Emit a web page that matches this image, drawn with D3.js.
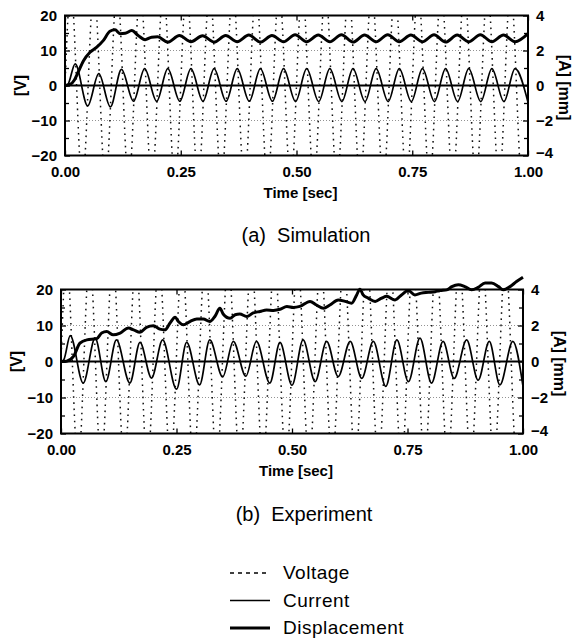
<!DOCTYPE html>
<html>
<head>
<meta charset="utf-8">
<script src="https://cdn.jsdelivr.net/npm/d3@7"></script>
<style>
  body { margin: 0; background: #fff; }
  svg { display: block; }
</style>
</head>
<body>
<svg id="chart"></svg>
<script>
// constants and data
const width = 575;
const height = 640;
const timeTicks = [0, 0.25, 0.5, 0.75, 1.0];
const voltTicks = [-20, -10, 0, 10, 20];
const voltMinorTicks = [-15, -5, 5, 15];
const ampTicks = [-4, -2, 0, 2, 4];
const ampMinorTicks = [-3, -1, 1, 3];
const gridValues = [-10, 10];
const legendLabels = ["Voltage", "Current", "Displacement"];
const captions = ["(a)  Simulation", "(b)  Experiment"];

// voltage [V] (peaks run past the +-20 frame and get clipped)
const simVoltage = [[0, 0], [0.0125, 28], [0.0375, -28], [0.0625, 28], [0.0875, -28], [0.1125, 28], [0.1375, -28],
    [0.1625, 28], [0.1875, -28], [0.2125, 28], [0.2375, -28], [0.2625, 28], [0.2875, -28], [0.3125, 28], [0.3375, -28],
    [0.3625, 28], [0.3875, -28], [0.4125, 28], [0.4375, -28], [0.4625, 28], [0.4875, -28], [0.5125, 28], [0.5375, -28],
    [0.5625, 28], [0.5875, -28], [0.6125, 28], [0.6375, -28], [0.6625, 28], [0.6875, -28], [0.7125, 28], [0.7375, -28],
    [0.7625, 28], [0.7875, -28], [0.8125, 28], [0.8375, -28], [0.8625, 28], [0.8875, -28], [0.9125, 28], [0.9375, -28],
    [0.9625, 28], [0.9875, -28], [1.0, -20]];
const expVoltage = [[0, 0], [0.012, 29], [0.037, -29], [0.062, 29], [0.087, -29], [0.112, 29], [0.137, -29],
    [0.162, 29], [0.187, -29], [0.212, 29], [0.237, -29], [0.262, 29], [0.287, -29], [0.312, 29], [0.337, -29],
    [0.362, 29], [0.387, -29], [0.412, 29], [0.437, -29], [0.462, 29], [0.487, -29], [0.512, 29], [0.537, -29],
    [0.562, 29], [0.587, -29], [0.612, 29], [0.637, -29], [0.662, 29], [0.687, -29], [0.712, 29], [0.737, -29],
    [0.762, 29], [0.787, -29], [0.812, 29], [0.837, -29], [0.862, 29], [0.887, -29], [0.912, 29], [0.937, -29],
    [0.962, 29], [0.987, -29], [1.0, -22]];

// current, drawn on the left scale (5 V-units = 1 A)
const simCurrent = [[0, 0], [0.006, 0.3], [0.022, 6.2], [0.049, -5.8], [0.073, 3.4], [0.098, -6.1], [0.122, 4.6],
    [0.148, -4.5], [0.172, 4.8], [0.198, -4.5], [0.222, 4.8], [0.248, -4.5], [0.272, 4.8], [0.298, -4.5], [0.322, 4.8],
    [0.348, -4.5], [0.372, 4.8], [0.398, -4.5], [0.422, 4.8], [0.448, -4.5], [0.472, 4.8], [0.498, -4.6], [0.522, 4.8],
    [0.548, -4.6], [0.572, 4.8], [0.598, -4.6], [0.622, 4.8], [0.648, -4.6], [0.672, 4.8], [0.698, -4.6], [0.722, 4.8],
    [0.748, -4.6], [0.772, 4.8], [0.798, -4.6], [0.822, 4.8], [0.848, -4.6], [0.872, 4.8], [0.898, -4.6], [0.922, 4.8],
    [0.948, -4.6], [0.972, 4.8], [1.0, -4.8]];
const expCurrent = [[0, 0], [0.006, 0.5], [0.02, 7.2], [0.048, -6.0], [0.074, 6.5], [0.097, -5.6], [0.12, 6.0],
    [0.149, -6.0], [0.171, 5.3], [0.196, -4.6], [0.22, 6.0], [0.25, -7.7], [0.272, 5.3], [0.3, -6.5], [0.322, 6.0],
    [0.35, -4.3], [0.373, 5.6], [0.4, -4.1], [0.423, 5.6], [0.452, -6.0], [0.474, 5.3], [0.5, -6.6], [0.524, 6.0],
    [0.55, -5.6], [0.575, 5.6], [0.6, -4.2], [0.626, 5.6], [0.651, -4.7], [0.676, 5.6], [0.703, -6.9], [0.727, 6.0],
    [0.752, -5.6], [0.777, 6.5], [0.802, -6.0], [0.827, 5.6], [0.851, -4.7], [0.878, 6.0], [0.903, -5.2], [0.927, 5.6],
    [0.95, -6.5], [0.978, 5.6], [1.0, -6.9]];

// displacement, drawn on the left scale (5 V-units = 1 mm)
const simDisplacement = [[0, 0], [0.011, 0.3], [0.02, 1.5], [0.028, 3.7], [0.04, 7.1], [0.054, 9.5], [0.068, 10.9],
    [0.083, 12.9], [0.097, 15.5], [0.108, 15.9], [0.119, 14.8], [0.13, 14.9], [0.144, 15.7], [0.158, 14.3],
    [0.173, 13.1], [0.187, 13.8], [0.2, 13.9], [0.222, 12.4], [0.247, 14.3], [0.272, 12.5], [0.297, 14.2],
    [0.322, 12.4], [0.347, 14.3], [0.372, 12.5], [0.397, 14.4], [0.422, 12.4], [0.447, 14.3], [0.472, 12.5],
    [0.497, 14.5], [0.522, 12.5], [0.547, 14.4], [0.572, 12.5], [0.597, 14.5], [0.622, 12.4], [0.647, 14.4],
    [0.672, 12.5], [0.697, 14.5], [0.722, 12.5], [0.747, 14.4], [0.772, 12.5], [0.797, 14.5], [0.822, 12.4],
    [0.847, 14.4], [0.872, 12.5], [0.897, 14.5], [0.922, 12.5], [0.947, 14.4], [0.972, 12.5], [1.0, 14.8]];
const expDisplacement = [[0, 0], [0.012, 0.1], [0.027, 1.4], [0.041, 5.1], [0.056, 6.0], [0.077, 6.3], [0.088, 7.9],
    [0.099, 8.3], [0.113, 7.4], [0.128, 7.9], [0.146, 9.3], [0.157, 8.8], [0.171, 8.1], [0.185, 9.5], [0.2, 9.9],
    [0.214, 9.0], [0.225, 8.8], [0.236, 10.7], [0.247, 12.3], [0.254, 11.1], [0.265, 10.2], [0.279, 11.1],
    [0.294, 11.8], [0.308, 11.8], [0.322, 11.1], [0.333, 12.5], [0.344, 14.8], [0.351, 13.2], [0.366, 12.0],
    [0.377, 13.0], [0.387, 13.2], [0.402, 12.5], [0.416, 13.5], [0.431, 13.9], [0.445, 14.3], [0.46, 14.2],
    [0.474, 14.5], [0.489, 15.3], [0.503, 15.0], [0.517, 15.3], [0.539, 16.7], [0.553, 15.7], [0.568, 14.8],
    [0.582, 15.7], [0.6, 17.1], [0.615, 16.7], [0.629, 16.2], [0.64, 18.5], [0.647, 20.1], [0.654, 18.5],
    [0.665, 17.6], [0.68, 16.7], [0.694, 17.6], [0.705, 18.1], [0.723, 17.1], [0.737, 18.5], [0.752, 19.7],
    [0.766, 18.5], [0.78, 19.0], [0.795, 19.2], [0.81, 19.4], [0.82, 19.7], [0.835, 19.9], [0.846, 20.8],
    [0.86, 21.3], [0.874, 20.8], [0.889, 19.9], [0.903, 20.6], [0.918, 21.8], [0.932, 21.8], [0.947, 20.8],
    [0.957, 19.9], [0.972, 20.8], [0.986, 22.2], [1.0, 23.4]];

const font = "'Liberation Sans', Arial, Helvetica, sans-serif";

const svg = d3.select("#chart")
    .attr("width", width)
    .attr("height", height)
    .style("font-family", font);

const panels = [
    { id: "a", x0: 65, x1: 528, y0: 15.5, y1: 155.5, voltage: simVoltage, current: simCurrent, disp: simDisplacement,
      caption: captions[0], captionX: 306, captionY: 242 },
    { id: "b", x0: 61, x1: 523, y0: 289.5, y1: 433.5, voltage: expVoltage, current: expCurrent, disp: expDisplacement,
      caption: captions[1], captionX: 304, captionY: 521 }
];

const drawPanel = (p) => {
    const x = d3.scaleLinear().domain([0, 1]).range([p.x0, p.x1]);
    const y = d3.scaleLinear().domain([-20, 20]).range([p.y1, p.y0]);
    const yR = d3.scaleLinear().domain([-4, 4]).range([p.y1, p.y0]);
    const g = svg.append("g").attr("id", `panel-${p.id}`);

    g.append("clipPath").attr("id", `clip-${p.id}`)
        .append("rect")
        .attr("x", p.x0).attr("y", p.y0)
        .attr("width", p.x1 - p.x0).attr("height", p.y1 - p.y0);

    // dotted grid at +-10
    g.selectAll("line.grid")
        .data(gridValues)
        .join("line")
        .attr("class", "grid")
        .attr("x1", p.x0).attr("x2", p.x1)
        .attr("y1", d => y(d)).attr("y2", d => y(d))
        .attr("stroke", "#777")
        .attr("stroke-width", 0.8)
        .attr("stroke-dasharray", "1,2");

    const line = d3.line()
        .x(d => x(d[0]))
        .y(d => y(d[1]))
        .curve(d3.curveMonotoneX);

    const clipped = g.append("g").attr("clip-path", `url(#clip-${p.id})`);
    clipped.append("path")
        .attr("d", line(p.voltage))
        .attr("fill", "none")
        .attr("stroke", "#111")
        .attr("stroke-width", 1.5)
        .attr("stroke-dasharray", "1.6,4.5");
    // zero line
    clipped.append("line")
        .attr("x1", p.x0).attr("x2", p.x1)
        .attr("y1", y(0)).attr("y2", y(0))
        .attr("stroke", "#000")
        .attr("stroke-width", 1.8);
    clipped.append("path")
        .attr("d", line(p.current))
        .attr("fill", "none")
        .attr("stroke", "#000")
        .attr("stroke-width", 1.7);

    // displacement is not clipped (goes past the top in the experiment)
    g.append("path")
        .attr("d", line(p.disp))
        .attr("fill", "none")
        .attr("stroke", "#000")
        .attr("stroke-width", 3)
        .attr("stroke-linejoin", "round");

    // axes
    const styleAxis = (sel) => {
        sel.select(".domain").remove();
        sel.selectAll(".tick line").attr("stroke", "#000").attr("stroke-width", 1.3);
        sel.selectAll("text")
            .attr("fill", "#000")
            .style("font-family", font)
            .style("font-size", "15px")
            .style("font-weight", "bold");
    };
    g.append("g")
        .attr("transform", `translate(${p.x0},0)`)
        .call(d3.axisLeft(y).tickValues(voltTicks).tickSize(-5).tickPadding(8).tickFormat(d3.format("d")))
        .call(styleAxis);
    g.append("g")
        .attr("transform", `translate(${p.x0},0)`)
        .call(d3.axisLeft(y).tickValues(voltMinorTicks).tickSize(-4).tickFormat(""))
        .call(styleAxis);
    const rightAxis = g.append("g")
        .attr("transform", `translate(${p.x1},0)`)
        .call(d3.axisRight(yR).tickValues(ampTicks).tickSize(-5).tickPadding(8).tickFormat(d3.format("d")))
        .call(styleAxis);
    // lowest label sits a bit higher, clear of "1.00"
    rightAxis.selectAll(".tick text").filter(d => d === -4).attr("dy", "0.1em");
    g.append("g")
        .attr("transform", `translate(${p.x1},0)`)
        .call(d3.axisRight(yR).tickValues(ampMinorTicks).tickSize(-4).tickFormat(""))
        .call(styleAxis);
    g.append("g")
        .attr("transform", `translate(0,${p.y1})`)
        .call(d3.axisBottom(x).tickValues(timeTicks).tickSize(-5).tickPadding(11).tickFormat(d3.format(".2f")))
        .call(styleAxis);
    g.append("g")
        .attr("transform", `translate(0,${p.y0})`)
        .call(d3.axisTop(x).tickValues(timeTicks).tickSize(-5).tickFormat(""))
        .call(styleAxis);

    // frame
    g.append("rect")
        .attr("x", p.x0).attr("y", p.y0)
        .attr("width", p.x1 - p.x0).attr("height", p.y1 - p.y0)
        .attr("fill", "none")
        .attr("stroke", "#000")
        .attr("stroke-width", 2);

    // axis titles
    const midY = (p.y0 + p.y1) / 2;
    g.append("text")
        .attr("transform", `translate(${p.x0 - 45},${y(0)}) rotate(-90)`)
        .attr("text-anchor", "middle")
        .attr("dy", "0.35em")
        .style("font-size", "16px")
        .style("font-weight", "bold")
        .text("[V]");
    g.append("text")
        .attr("transform", `translate(${p.x1 + 37},${midY + 2}) rotate(90)`)
        .attr("text-anchor", "middle")
        .attr("dy", "0.35em")
        .style("font-size", "16px")
        .style("font-weight", "bold")
        .text("[A] [mm]");
    g.append("text")
        .attr("x", (p.x0 + p.x1) / 2 + 4)
        .attr("y", p.y1 + 42)
        .attr("text-anchor", "middle")
        .style("font-size", "15px")
        .style("font-weight", "bold")
        .text("Time [sec]");

    // caption
    svg.append("text")
        .attr("x", p.captionX)
        .attr("y", p.captionY)
        .attr("text-anchor", "middle")
        .style("font-size", "20px")
        .style("white-space", "pre")
        .text(p.caption);
};

panels.forEach(drawPanel);

// legend
const legendStyles = [
    { width: 1.3, dash: "4,4" },
    { width: 1.6, dash: null },
    { width: 3, dash: null }
];
const legendY = d3.scalePoint().domain(legendLabels).range([573, 628]);
const legend = svg.append("g").attr("id", "legend");
legend.selectAll("line")
    .data(legendLabels)
    .join("line")
    .attr("x1", 230).attr("x2", 270)
    .attr("y1", d => legendY(d)).attr("y2", d => legendY(d))
    .attr("stroke", "#000")
    .attr("stroke-width", (d, i) => legendStyles[i].width)
    .attr("stroke-dasharray", (d, i) => legendStyles[i].dash);
legend.selectAll("text")
    .data(legendLabels)
    .join("text")
    .attr("x", 283)
    .attr("y", d => legendY(d) + 6)
    .style("font-size", "19px")
    .style("letter-spacing", "0.5px")
    .text(d => d);
</script>
</body>
</html>
